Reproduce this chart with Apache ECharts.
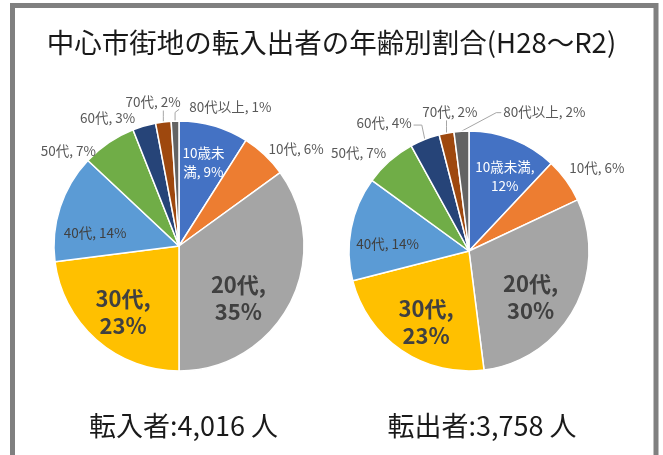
<!DOCTYPE html>
<html>
<head>
<meta charset="utf-8">
<script src="https://cdn.jsdelivr.net/npm/echarts@6/dist/echarts.min.js"></script>
<style>
  html, body { margin: 0; padding: 0; background: #ffffff; }
  #chart { width: 663px; height: 455px; }
</style>
</head>
<body>
<div id="chart"></div>
<script>
// Age groups and their shares (%) of movers into / out of the city centre, H28–R2
const categories = ['10歳未満', '10代', '20代', '30代', '40代', '50代', '60代', '70代', '80代以上'];
const inflowShares = [9, 6, 35, 23, 14, 7, 3, 2, 1];
const outflowShares = [12, 6, 30, 23, 14, 7, 4, 2, 2];
const inflowTotal = '4,016';
const outflowTotal = '3,758';
const titleText = '中心市街地の転入出者の年齢別割合(H28～R2)';
const inflowCaption = '転入者:' + inflowTotal + ' 人';
const outflowCaption = '転出者:' + outflowTotal + ' 人';

const palette = ['#4472C4', '#ED7D31', '#A5A5A5', '#FFC000', '#5B9BD5', '#70AD47', '#264478', '#9E480E', '#636363'];
const FONT = '"Noto Sans CJK JP", "Noto Sans", sans-serif';

// Pie geometry
const pies = [
  { center: [179, 246], radius: 125 },
  { center: [469, 251], radius: 120 }
];

// Label placement per slice: angle offset from the slice middle (deg),
// distance as a fraction of the radius, text style kind, line break index, leader line kind
const labelPlacement = [
  [
    { dA: 0,   k: 0.70, kind: 'white', brk: 4 },
    { dA: 7,   k: 1.22, kind: 'out' },
    { dA: 14,  k: 0.63, kind: 'big', brk: 4 },
    { dA: -1,  k: 0.69, kind: 'big', brk: 4 },
    { dA: -9,  k: 0.68, kind: 'in' },
    { dA: -15, k: 1.17, kind: 'out' },
    { dA: -13, k: 1.17, kind: 'out' },
    { dA: -3,  k: 1.17, kind: 'out', line: 'up' },
    { dA: 22,  k: 1.19, kind: 'out', line: 'hook' }
  ],
  [
    { dA: 4,   k: 0.69, kind: 'white', brk: 6 },
    { dA: 3,   k: 1.27, kind: 'out' },
    { dA: 8,   k: 0.64, kind: 'big', brk: 4 },
    { dA: -3,  k: 0.69, kind: 'big', brk: 4 },
    { dA: -6,  k: 0.68, kind: 'in' },
    { dA: -7,  k: 1.23, kind: 'out' },
    { dA: -12, k: 1.28, kind: 'out', line: 'elbow' },
    { dA: 3,   k: 1.17, kind: 'out', line: 'up' },
    { dA: 32,  k: 1.32, kind: 'out', line: 'diag' }
  ]
];

const labelStyles = {
  white: { color: '#ffffff', fontSize: 13.5, lineHeight: 19, fontWeight: 'normal' },
  out:   { color: '#595959', fontSize: 13.5, lineHeight: 17, fontWeight: 'normal' },
  in:    { color: '#404040', fontSize: 13.5, lineHeight: 17, fontWeight: 'normal' },
  big:   { color: '#404040', fontSize: 22, lineHeight: 27, fontWeight: 'bold' }
};

function labelText(name, value, brk) {
  const full = name + ', ' + value + '%';
  if (brk === undefined) return full;
  return full.slice(0, brk).trim() + '\n' + full.slice(brk).trim();
}

// Middle angle of each slice, clockwise from 12 o'clock, in degrees
function midAngles(values) {
  const total = values.reduce((a, b) => a + b, 0);
  let acc = 0;
  return values.map(v => {
    const m = (acc + v / 2) / total * 360;
    acc += v;
    return m;
  });
}

const seriesValues = [inflowShares, outflowShares];
const mids = seriesValues.map(midAngles);

function polar(pie, angleDeg, dist) {
  const a = angleDeg * Math.PI / 180;
  return [pie.center[0] + dist * Math.sin(a), pie.center[1] - dist * Math.cos(a)];
}

function buildSeries(si) {
  const values = seriesValues[si];
  return {
    type: 'pie',
    center: pies[si].center,
    radius: pies[si].radius,
    startAngle: 90,
    clockwise: true,
    avoidLabelOverlap: false,
    silent: true,
    animation: false,
    itemStyle: { borderColor: '#ffffff', borderWidth: 1.5 },
    labelLine: { show: false, lineStyle: { color: '#A6A6A6', width: 1 } },
    data: categories.map((name, i) => {
      const cfg = labelPlacement[si][i];
      const st = labelStyles[cfg.kind];
      return {
        name: name,
        value: values[i],
        itemStyle: { color: palette[i] },
        label: {
          show: true,
          position: cfg.line ? 'outside' : 'inside',
          formatter: labelText(name, values[i], cfg.brk),
          color: st.color,
          fontSize: st.fontSize,
          lineHeight: st.lineHeight,
          fontWeight: st.fontWeight,
          fontFamily: FONT
        },
        labelLine: { show: !!cfg.line, length: 5, length2: 5 }
      };
    }),
    labelLayout: function (params) {
      const pie = pies[si];
      const cfg = labelPlacement[si][params.dataIndex];
      const mid = mids[si][params.dataIndex];
      const p = polar(pie, mid + cfg.dA, pie.radius * cfg.k);
      const w = params.labelRect.width, h = params.labelRect.height;
      const out = { x: p[0], y: p[1], align: 'center', verticalAlign: 'middle' };
      if (cfg.line) {
        const e = polar(pie, mid, pie.radius);
        const left = p[0] - w / 2, right = p[0] + w / 2, bottom = p[1] + h / 2;
        if (cfg.line === 'up') {
          out.labelLinePoints = [e, [e[0], (e[1] + bottom) / 2], [e[0], bottom]];
        } else if (cfg.line === 'hook') {
          out.labelLinePoints = [e, [e[0], p[1] + 6], [e[0] + 4, p[1] + 3]];
        } else if (cfg.line === 'elbow') {
          out.labelLinePoints = [e, [e[0] - 3, p[1] + 2], [right + 2, p[1] + 2]];
        } else if (cfg.line === 'diag') {
          out.labelLinePoints = [e, [left - 7, p[1] + 1], [left - 2, p[1] + 1]];
        }
      }
      return out;
    }
  };
}

const chart = echarts.init(document.getElementById('chart'), null, { renderer: 'canvas' });
chart.setOption({
  backgroundColor: '#ffffff',
  animation: false,
  title: {
    text: titleText,
    left: 'center',
    top: 24,
    textStyle: { fontFamily: FONT, fontSize: 27.5, fontWeight: 'normal', color: '#1a1a1a' }
  },
  graphic: [
    {
      type: 'rect',
      shape: { x: 12.5, y: 5.5, width: 643.5, height: 520 },
      style: { fill: 'none', stroke: '#808080', lineWidth: 5 },
      silent: true
    },
    {
      type: 'text',
      x: 183.5, y: 426,
      style: { text: inflowCaption, fontFamily: FONT, fontSize: 27, fill: '#1a1a1a', align: 'center', verticalAlign: 'middle' },
      silent: true
    },
    {
      type: 'text',
      x: 482, y: 426,
      style: { text: outflowCaption, fontFamily: FONT, fontSize: 27, fill: '#1a1a1a', align: 'center', verticalAlign: 'middle' },
      silent: true
    }
  ],
  series: [buildSeries(0), buildSeries(1)]
});
</script>
</body>
</html>
